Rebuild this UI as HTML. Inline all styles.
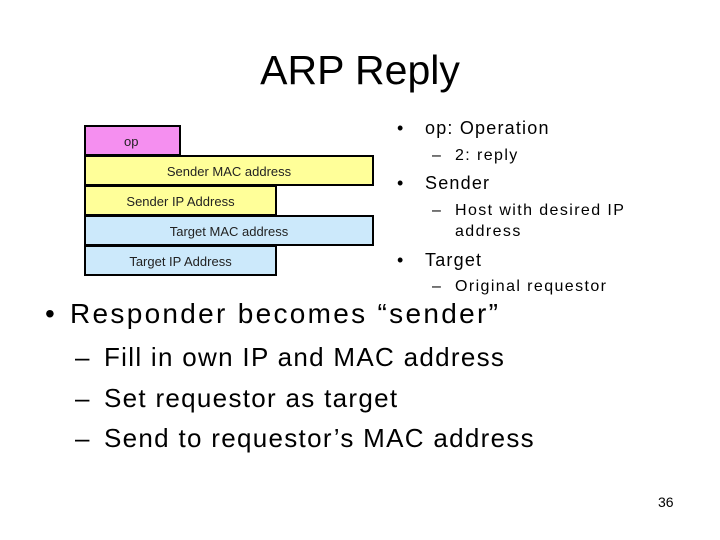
<!DOCTYPE html>
<html><head><meta charset="utf-8"><style>
body{margin:0;width:720px;height:540px;background:#fff;position:relative;overflow:hidden;font-family:"Liberation Sans",sans-serif;color:#000}
.t{position:absolute;white-space:nowrap}
.b{position:absolute;border:2px solid #000;box-sizing:border-box;font-size:13px;color:#222;text-align:center}
.r1{font-size:18px;letter-spacing:1.2px}
.r2{font-size:16px;letter-spacing:1.4px}
.s{font-size:26px;letter-spacing:1.3px}
</style></head><body>
<div class="t" style="left:0;width:720px;text-align:center;top:47px;font-size:41px">ARP Reply</div>

<div class="b" style="left:84px;top:125px;width:97px;height:31px;background:#f58ff0;line-height:29px;text-align:left;padding-left:38px">op</div>
<div class="b" style="left:84px;top:155px;width:290px;height:31px;background:#ffff99;line-height:29px">Sender MAC address</div>
<div class="b" style="left:84px;top:185px;width:193px;height:31px;background:#ffff99;line-height:29px">Sender IP Address</div>
<div class="b" style="left:84px;top:215px;width:290px;height:31px;background:#cce9fb;line-height:29px">Target MAC address</div>
<div class="b" style="left:84px;top:245px;width:193px;height:31px;background:#cce9fb;line-height:29px">Target IP Address</div>

<div class="t r1" style="left:397px;top:118px">•</div><div class="t r1" style="left:425px;top:118px">op: Operation</div>
<div class="t r2" style="left:432px;top:147px">–</div><div class="t r2" style="left:455px;top:147px">2: reply</div>
<div class="t r1" style="left:397px;top:173px">•</div><div class="t r1" style="left:425px;top:173px">Sender</div>
<div class="t r2" style="left:432px;top:202px">–</div><div class="t r2" style="left:455px;top:202px">Host with desired IP</div>
<div class="t r2" style="left:455px;top:223px">address</div>
<div class="t r1" style="left:397px;top:250px">•</div><div class="t r1" style="left:425px;top:250px">Target</div>
<div class="t r2" style="left:432px;top:278px">–</div><div class="t r2" style="left:455px;top:278px">Original requestor</div>

<div class="t" style="left:45px;top:298px;font-size:28px">•</div>
<div class="t" style="left:70px;top:298px;font-size:28px;letter-spacing:2.3px">Responder becomes “sender”</div>
<div class="t s" style="left:75px;top:342px">–</div>
<div class="t s" style="left:104px;top:342px">Fill in own IP and MAC address</div>
<div class="t s" style="left:75px;top:383px">–</div>
<div class="t s" style="left:104px;top:383px">Set requestor as target</div>
<div class="t s" style="left:75px;top:423px">–</div>
<div class="t s" style="left:104px;top:423px">Send to requestor’s MAC address</div>

<div class="t" style="left:658px;top:494px;font-size:14px">36</div>
</body></html>
